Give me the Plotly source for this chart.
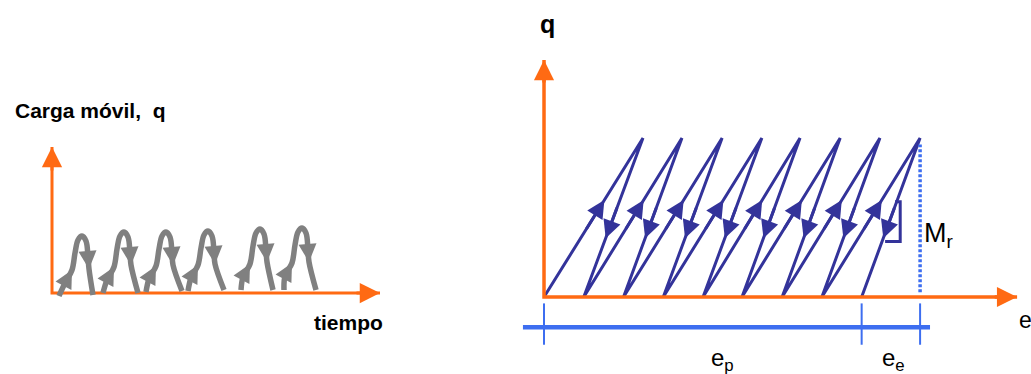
import plotly.graph_objects as go

ORANGE = "#ff6a13"
GRAY = "#808080"
NAVY = "#33339a"
BLUE = "#3d6ef0"
FONT = "Liberation Sans"
NARROW = "Liberation Sans Narrow, Liberation Sans"
W, H = 1031, 374

# ---- left panel: carga movil q vs tiempo ----
# one list per load cycle (foot, rising leg, peak, falling leg, foot)
arc_t = [
    [0.7, 1.3, 2.0, 2.3, 2.6, 3.0, 3.4, 3.6, 3.7, 4.1],
    [5.1, 5.5, 6.2, 6.5, 6.8, 7.2, 7.6, 7.8, 7.9, 8.6],
    [9.4, 9.7, 10.4, 10.7, 11.0, 11.4, 11.8, 12.0, 12.1, 13.0],
    [13.6, 13.9, 14.6, 14.9, 15.2, 15.6, 16.0, 16.2, 16.3, 17.2],
    [18.9, 19.1, 19.8, 20.1, 20.4, 20.8, 21.2, 21.4, 21.5, 22.1],
    [23.2, 23.3, 24.0, 24.3, 24.6, 25.0, 25.4, 25.6, 25.7, 26.4],
]
arc_q = [
    [-0.3, 1.0, 2.3, 4.0, 5.3, 5.7, 5.2, 3.6, 2.4, -0.2],
    [0.0, 1.3, 2.6, 4.4, 5.7, 6.1, 5.6, 4.0, 2.8, 0.0],
    [0.1, 1.4, 2.7, 4.4, 5.7, 6.1, 5.6, 4.0, 2.8, 0.2],
    [0.2, 1.5, 2.8, 4.5, 5.8, 6.2, 5.7, 4.1, 2.9, 0.3],
    [0.3, 1.6, 2.9, 4.7, 6.0, 6.4, 5.9, 4.3, 3.1, 0.3],
    [0.3, 1.7, 3.0, 4.8, 6.1, 6.5, 6.0, 4.3, 3.1, 0.3],
]
t_end = 32.8
q_end = 14.6

# ---- right panel: q vs e ----
e_res = [0.0, 1.0, 2.0, 3.0, 4.0, 4.98, 5.99, 6.99, 7.99]
e_peak = [2.49, 3.47, 4.48, 5.48, 6.44, 7.45, 8.45, 9.46]
q_peak = [1.0, 1.0, 1.0, 1.0, 1.0, 1.0, 1.0, 1.0]
e_end = 11.9
q2_end = 1.49
slope_e = [8.83, 8.96, 8.96, 8.58]
slope_q = [0.60, 0.60, 0.35, 0.35]
bar_e = [-0.53, 9.71]
bar_q = -0.19

e_p = e_res[-1]
e_tot = e_peak[-1]

# axes layout (both panels drawn on hidden axes)
L_DOM, L_XR, L_YR = [0, 510 / W], [-5.2, 45.8], [-8.1, 29.3]
R_DOM, R_XR, R_YR = [520 / W, 1], [-0.604, 12.25], [-0.484, 1.868]
L_SX = W * (L_DOM[1] - L_DOM[0]) / (L_XR[1] - L_XR[0])
L_SY = H / (L_YR[1] - L_YR[0])
R_SX = W * (R_DOM[1] - R_DOM[0]) / (R_XR[1] - R_XR[0])
R_SY = H / (R_YR[1] - R_YR[0])

fig = go.Figure()


def head(x0, y0, x1, y1, xr, yr, sx, sy, color, width, size):
    # arrow head at (x1, y1), pointing away from (x0, y0); tail given in pixels
    fig.add_annotation(x=x1, y=y1, ax=(x0 - x1) * sx, ay=(y1 - y0) * sy,
                       xref=xr, yref=yr, text="", showarrow=True, arrowhead=2,
                       arrowsize=size, arrowwidth=width, arrowcolor=color, standoff=0)


def label(x, y, txt, xr, yr, size, bold=False, xanchor="center", family=FONT):
    if bold:
        txt = "<b>" + txt + "</b>"
    fig.add_annotation(x=x, y=y, xref=xr, yref=yr, text=txt, showarrow=False,
                       xanchor=xanchor, yanchor="middle",
                       font=dict(family=family, size=size, color="black"))


# left axes
fig.add_trace(go.Scatter(x=[0, 0, t_end], y=[q_end, 0, 0], mode="lines",
                         line=dict(color=ORANGE, width=3), xaxis="x", yaxis="y"))
head(0, q_end - 2.5, 0, q_end, "x", "y", L_SX, L_SY, ORANGE, 3, 1.35)
head(t_end - 2.5, 0, t_end, 0, "x", "y", L_SX, L_SY, ORANGE, 3, 1.35)

# load cycles
for t, q in zip(arc_t, arc_q):
    fig.add_trace(go.Scatter(x=t, y=q, mode="lines",
                             line=dict(color=GRAY, width=5.5, shape="spline"),
                             xaxis="x", yaxis="y"))
    head(t[1], q[1], t[2], q[2], "x", "y", L_SX, L_SY, GRAY, 4, 0.9)
    head(t[7], q[7], t[8], q[8], "x", "y", L_SX, L_SY, GRAY, 4, 0.9)

# right panel: loading / unloading zigzag
zx, zy = [], []
for i in range(len(e_peak)):
    zx += [e_res[i], e_peak[i]]
    zy += [0, q_peak[i]]
zx.append(e_res[-1])
zy.append(0)
fig.add_trace(go.Scatter(x=zx, y=zy, mode="lines", line=dict(color=NAVY, width=3),
                         xaxis="x2", yaxis="y2"))

for i in range(len(e_peak)):
    a, b, c, h = e_res[i], e_peak[i], e_res[i + 1], q_peak[i]
    # loading arrow (up) and unloading arrow (down)
    head(a + 0.42 * (b - a), 0.42 * h, a + 0.61 * (b - a), 0.61 * h,
         "x2", "y2", R_SX, R_SY, NAVY, 3, 1.2)
    head(c + 0.57 * (b - c), 0.57 * h, c + 0.37 * (b - c), 0.37 * h,
         "x2", "y2", R_SX, R_SY, NAVY, 3, 1.2)

fig.add_trace(go.Scatter(x=slope_e, y=slope_q, mode="lines", line=dict(color=NAVY, width=3),
                         xaxis="x2", yaxis="y2"))

# recovered part M_r
fig.add_trace(go.Scatter(x=[e_tot, e_tot], y=[0.03, 0.96], mode="lines",
                         line=dict(color=BLUE, width=3.5, dash="3px,2px"),
                         xaxis="x2", yaxis="y2"))

# right axes
fig.add_trace(go.Scatter(x=[0, 0, e_end], y=[q2_end, 0, 0], mode="lines",
                         line=dict(color=ORANGE, width=3.5), xaxis="x2", yaxis="y2"))
head(0, q2_end - 0.15, 0, q2_end, "x2", "y2", R_SX, R_SY, ORANGE, 3.5, 1.15)
head(e_end - 0.6, 0, e_end, 0, "x2", "y2", R_SX, R_SY, ORANGE, 3.5, 1.15)

# e_p / e_e bar
fig.add_trace(go.Scatter(x=bar_e, y=[bar_q, bar_q], mode="lines",
                         line=dict(color=BLUE, width=4.5), xaxis="x2", yaxis="y2"))
for e in [0, e_p, e_tot]:
    fig.add_trace(go.Scatter(x=[e, e], y=[-0.04, -0.3], mode="lines",
                             line=dict(color=BLUE, width=2), xaxis="x2", yaxis="y2"))

label(-3.9, 18.3, "Carga móvil,\u00a0 q", "x", "y", 21, bold=True, xanchor="left")
label(26.0, -2.9, "tiempo", "x", "y", 21, bold=True, xanchor="left")
label(0.08, 1.72, "q", "x2", "y2", 25, bold=True, family=NARROW)
label(12.1, -0.145, "e", "x2", "y2", 23, family=NARROW)
label(9.5, 0.39, "M<sub>r</sub>", "x2", "y2", 27, xanchor="left", family=NARROW)
label(4.5, -0.39, "e<sub>p</sub>", "x2", "y2", 24, family=NARROW)
label(8.78, -0.39, "e<sub>e</sub>", "x2", "y2", 24, family=NARROW)

fig.update_layout(
    width=W, height=H, margin=dict(l=0, r=0, t=0, b=0),
    paper_bgcolor="white", plot_bgcolor="white", showlegend=False,
    xaxis=dict(domain=L_DOM, range=L_XR, visible=False),
    yaxis=dict(domain=[0, 1], range=L_YR, visible=False),
    xaxis2=dict(domain=R_DOM, range=R_XR, visible=False, anchor="y2"),
    yaxis2=dict(domain=[0, 1], range=R_YR, visible=False, anchor="x2"),
)

fig.write_html("out.html", config={"displayModeBar": False},
               post_script="document.body.style.margin='0px';")
